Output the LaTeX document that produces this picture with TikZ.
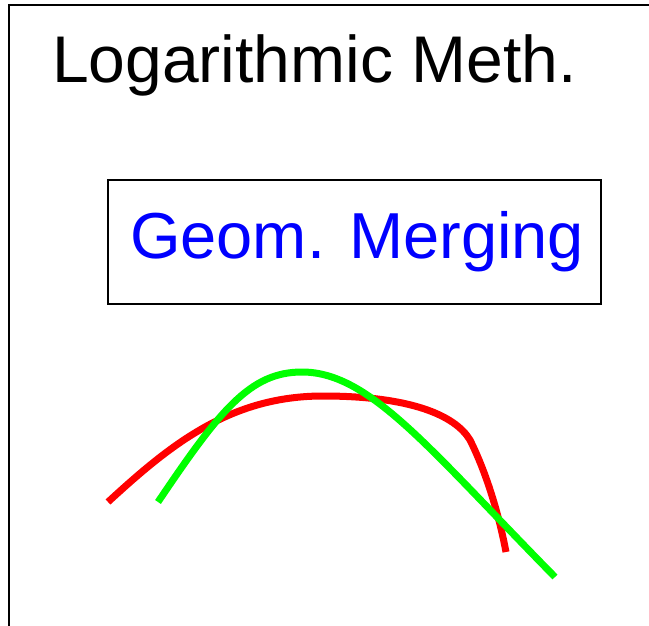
\documentclass[tikz,border=0pt]{standalone}
\usepackage{fontspec}
\setmainfont{Liberation Sans}
\usepackage{xcolor}
\definecolor{curvered}{RGB}{255,0,0}
\definecolor{curvegreen}{RGB}{0,255,0}

\begin{document}
\begin{tikzpicture}[x=1pt,y=-1pt]
    \useasboundingbox (0,0) rectangle (649,626);
    \fill[white] (0,0) rectangle (649,626);
    \draw[line width=2pt] (9,626) -- (9,5) -- (649,5);
    \node[anchor=base west,inner sep=0pt,font=\fontsize{66}{70}\selectfont] (title) at (52,83) {Logarithmic Meth.};
    \node[draw,line width=2pt,inner sep=0pt,minimum width=493pt,minimum height=124pt,
          text=blue,font=\fontsize{65}{70}\selectfont] (merge) at (354,242) {\hspace{6pt}Geom. Merging};
    \draw[curvered,line width=7pt] (108,502) .. controls (170,445) and (230,396) .. (323,396)
        .. controls (410,396) and (455,415) .. (470,440) .. controls (485,470) and (498,510) .. (506,552);
    \draw[curvegreen,line width=7pt] (158,502) .. controls (220,410) and (250,372) .. (302,372)
        .. controls (370,372) and (430,450) .. (555,577);
\end{tikzpicture}
\end{document}
